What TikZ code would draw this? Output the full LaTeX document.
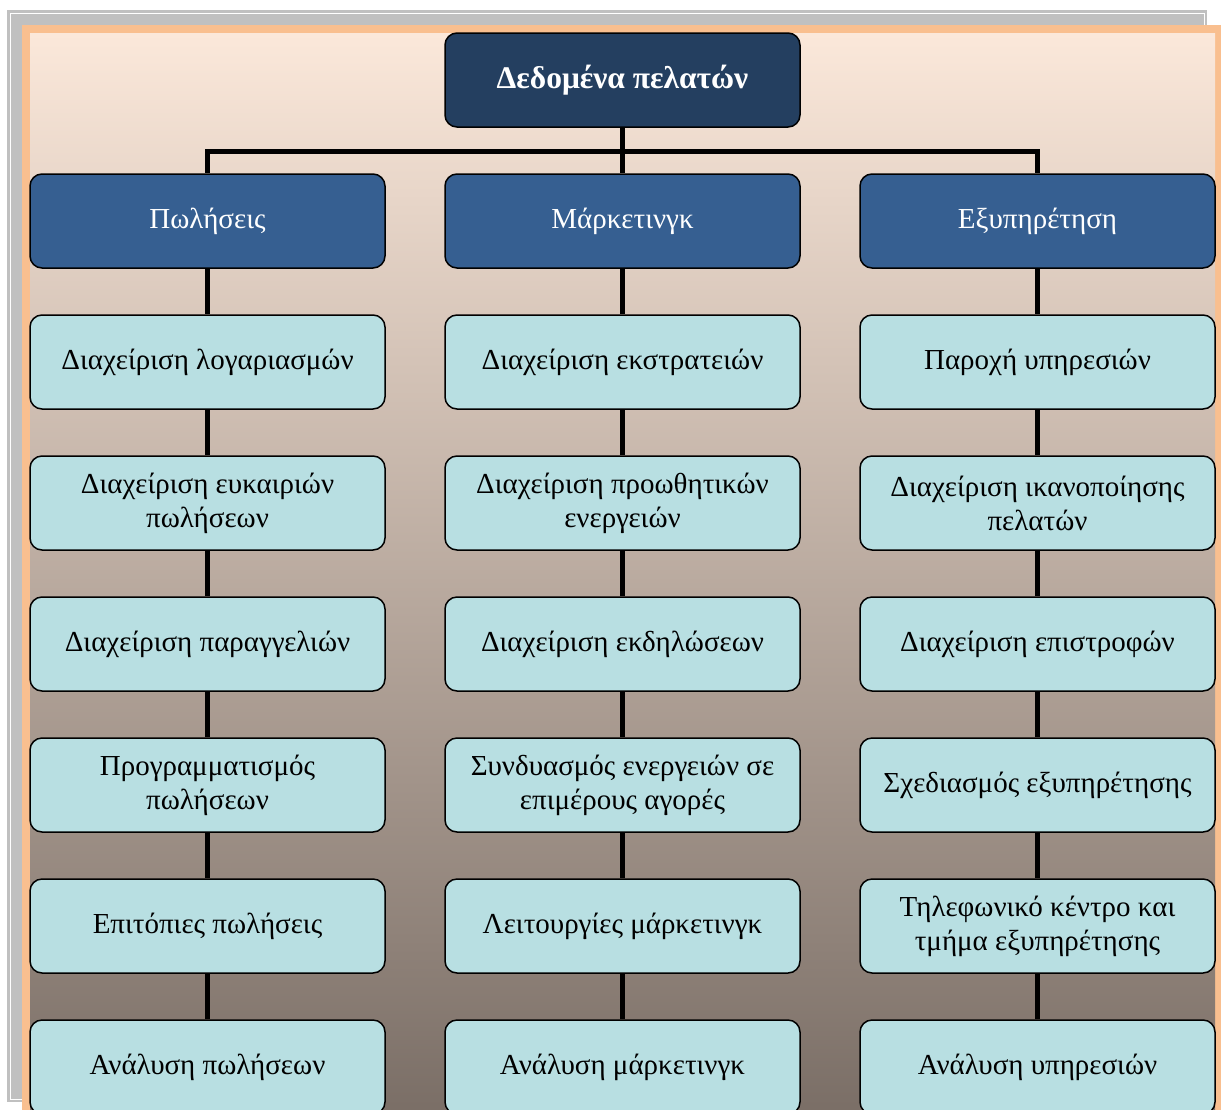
\documentclass[tikz,border=0pt]{standalone}
\usepackage{fontspec}
\setmainfont{Liberation Serif}
\usepackage{tikz}
\usetikzlibrary{trees}

\definecolor{rootblue}{HTML}{243F60}
\definecolor{groupblue}{HTML}{365F91}
\definecolor{taskcyan}{HTML}{B8DFE2}
\definecolor{framepeach}{HTML}{F9BF8F}
\definecolor{shadowgray}{HTML}{C0C0C0}
\definecolor{bgtop}{HTML}{FBE8DA}
\definecolor{bgmid}{HTML}{CDBAAC}
\definecolor{bgbottom}{HTML}{7A6E66}

\begin{document}
\begin{tikzpicture}[x=1pt, y=1pt,
    box/.style={draw=black, line width=1.5pt, rounded corners=12pt,
      minimum width=355pt, minimum height=94pt, align=center,
      font=\fontsize{29}{34}\selectfont},
    rootbox/.style={box, fill=rootblue, text=white,
      font=\fontsize{31.5}{36}\selectfont\bfseries},
    groupbox/.style={box, fill=groupblue, text=white},
    taskbox/.style={box, fill=taskcyan},
    edge from parent/.style={draw, line width=5pt},
    level distance=141pt,
    level 1/.style={sibling distance=415pt,
      edge from parent path={(\tikzparentnode.south) -- ++(0,-23.5) -| (\tikzchildnode.north)}}]
  \useasboundingbox (0,0) rectangle (1221,-1109);
  % page frame
  \fill[shadowgray] (7,-10) rectangle (1207,-1102);
  \draw[white, line width=0.8pt] (10,-13) rectangle (1204,-1099);
  \fill[framepeach] (22,-25) rectangle (1225,-1115);
  \shade[top color=bgtop, middle color=bgmid, bottom color=bgbottom]
    (30,-33) rectangle (1215,-1115);

  \node[rootbox] (data) at (622.5,-80) {Δεδομένα πελατών}
    child {node[groupbox] {Πωλήσεις}
      child {node[taskbox] {Διαχείριση λογαριασμών}
        child {node[taskbox] {Διαχείριση ευκαιριών\\πωλήσεων}
          child {node[taskbox] {Διαχείριση παραγγελιών}
            child {node[taskbox] {Προγραμματισμός\\πωλήσεων}
              child {node[taskbox] {Επιτόπιες πωλήσεις}
                child {node[taskbox] {Ανάλυση πωλήσεων}}}}}}}}
    child {node[groupbox] {Μάρκετινγκ}
      child {node[taskbox] {Διαχείριση εκστρατειών}
        child {node[taskbox] {Διαχείριση προωθητικών\\ενεργειών}
          child {node[taskbox] {Διαχείριση εκδηλώσεων}
            child {node[taskbox] {Συνδυασμός ενεργειών σε\\επιμέρους αγορές}
              child {node[taskbox] {Λειτουργίες μάρκετινγκ}
                child {node[taskbox] {Ανάλυση μάρκετινγκ}}}}}}}}
    child {node[groupbox] {Εξυπηρέτηση}
      child {node[taskbox] {Παροχή υπηρεσιών}
        child {node[taskbox] {Διαχείριση ικανοποίησης\\πελατών}
          child {node[taskbox] {Διαχείριση επιστροφών}
            child {node[taskbox] {Σχεδιασμός εξυπηρέτησης}
              child {node[taskbox] {Τηλεφωνικό κέντρο και\\τμήμα εξυπηρέτησης}
                child {node[taskbox] {Ανάλυση υπηρεσιών}}}}}}}};
\end{tikzpicture}
\end{document}
